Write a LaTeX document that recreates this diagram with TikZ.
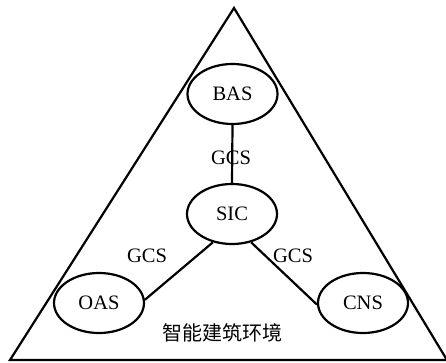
\documentclass[tikz,border=0pt]{standalone}
\usepackage{fontspec}
\setmainfont{Liberation Serif}
\newfontfamily\cjk{Noto Sans CJK SC}
\usetikzlibrary{shapes.geometric}
\tikzset{
  sys/.style={ellipse, draw, line width=2.2pt, minimum width=90pt, minimum height=60pt, inner sep=0pt, font=\fontsize{20.5}{24}\selectfont},
  lbl/.style={inner sep=0pt, font=\fontsize{20.5}{24}\selectfont},
  conn/.style={line width=2.2pt}
}
\begin{document}
\begin{tikzpicture}[x=1pt,y=-1pt]
\useasboundingbox (0,0) rectangle (446,363);
\coordinate (apex) at (234,8);
\coordinate (bl) at (10,360);
\coordinate (br) at (447,360);
\draw[line width=2.2pt, line join=miter] (apex) -- (br) -- (bl) -- cycle;
\node[sys] (BAS) at (232.5,94) {BAS};
\node[sys] (SIC) at (232,214) {SIC};
\node[sys] (OAS) at (99,303) {OAS};
\node[sys] (CNS) at (363,303) {CNS};
\draw[conn] (BAS.south) -- (SIC.north);
\draw[conn] (SIC.236) -- (OAS.4);
\draw[conn] (SIC.304) -- (CNS.182);
\node[lbl] (g1) at (231,158) {GCS};
\node[lbl] (g2) at (147,256) {GCS};
\node[lbl] (g3) at (293,256) {GCS};
\node[lbl, font=\cjk\fontsize{20}{24}\selectfont] (env) at (222,333) {智能建筑环境};
\end{tikzpicture}
\end{document}
